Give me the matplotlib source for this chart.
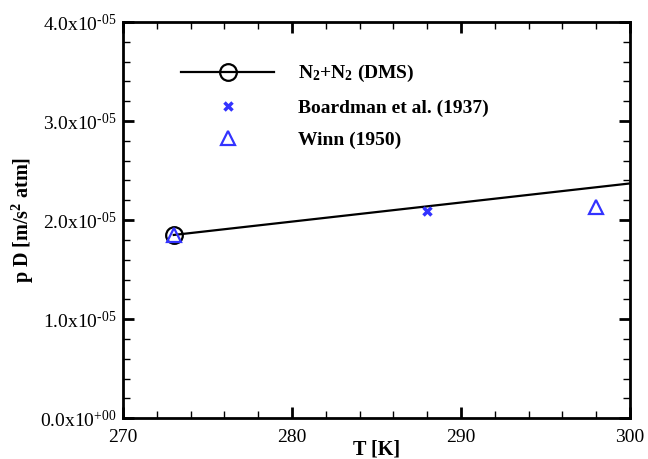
import matplotlib
matplotlib.use('Agg')
import matplotlib.pyplot as plt
from matplotlib.ticker import MultipleLocator, FuncFormatter

plt.rcParams['font.family'] = ['Liberation Serif', 'DejaVu Serif']
plt.rcParams['mathtext.fontset'] = 'custom'
plt.rcParams['mathtext.rm'] = 'Liberation Serif'
plt.rcParams['mathtext.it'] = 'Liberation Serif:italic'
plt.rcParams['mathtext.bf'] = 'Liberation Serif:bold'

# data
T_dms = [273, 300]
pD_dms = [1.85e-5, 2.37e-5]
T_boardman = [288]
pD_boardman = [2.09e-5]
T_winn = [273, 298]
pD_winn = [1.85e-5, 2.13e-5]

blue = '#3333ff'

fig = plt.figure(figsize=(6.48, 4.59), dpi=100)
ax = fig.add_axes([0.190, 0.089, 0.782, 0.863])

ax.plot(T_dms, pD_dms, color='black', linewidth=1.6, marker='o', markevery=[0],
        markersize=12, markerfacecolor='none', markeredgewidth=1.6,
        label=r'N$_\mathbf{2}$+N$_\mathbf{2}$ (DMS)')
ax.plot(T_boardman, pD_boardman, linestyle='none', marker='x', color=blue,
        markersize=6, markeredgewidth=2.5, label='Boardman et al. (1937)')
ax.plot(T_winn, pD_winn, linestyle='none', marker='^', color=blue,
        markersize=10, markerfacecolor='none', markeredgewidth=1.6,
        label='Winn (1950)')

ax.set_xlim(270, 300)
ax.set_ylim(0, 4e-5)
ax.xaxis.set_major_locator(MultipleLocator(10))
ax.xaxis.set_minor_locator(MultipleLocator(2))
ax.yaxis.set_major_locator(MultipleLocator(1e-5))
ax.yaxis.set_minor_locator(MultipleLocator(0.2e-5))


def sci(v, pos):
    if abs(v) < 1e-20:
        return r'$\mathregular{0.0x10^{\text{+00}}}$'
    e = int(f'{v:e}'.split('e')[1])
    m = v / 10 ** e
    return r'$\mathregular{%.1fx10^{\text{%s%02d}}}$' % (m, '-' if e < 0 else '+', abs(e))


ax.yaxis.set_major_formatter(FuncFormatter(sci))

ax.tick_params(which='both', direction='in', top=True, right=True, labelsize=14)
ax.tick_params(which='major', length=8, width=2)
ax.tick_params(which='minor', length=5, width=1)
ax.tick_params(axis='x', which='major', pad=8)
ax.tick_params(axis='y', which='major', pad=5)
for s in ax.spines.values():
    s.set_linewidth(2)

ax.set_xlabel('T [K]', fontsize=14.5, fontweight='bold', labelpad=-5)
ax.set_ylabel(r'p D [m/s$^\mathbf{2}$ atm]', fontsize=14.5, fontweight='bold')
ax.yaxis.set_label_coords(-0.172, 0.5)

ax.legend(loc='upper left', bbox_to_anchor=(0.08, 0.94), frameon=False,
          prop={'weight': 'bold', 'size': 14}, handlelength=4.8,
          labelspacing=0.75, handletextpad=1.2, numpoints=1)

plt.savefig('out.png', dpi=100)
